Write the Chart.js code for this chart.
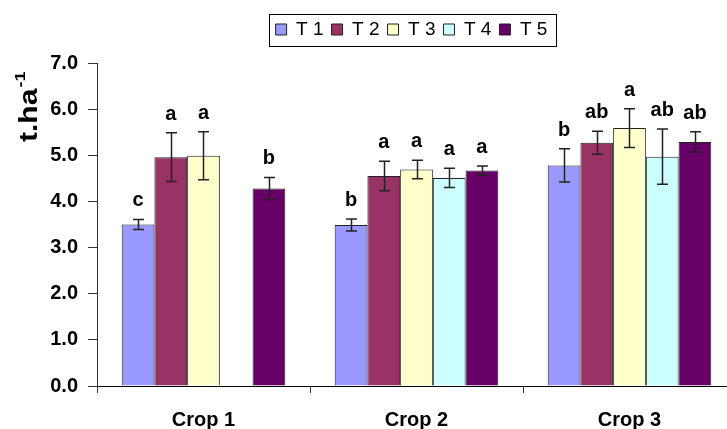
<!DOCTYPE html>
<html>
<head>
<meta charset="utf-8">
<script src="https://cdn.jsdelivr.net/npm/chart.js@4/dist/chart.umd.min.js"></script>
<style>
  html, body { margin: 0; padding: 0; background: #fff; overflow: hidden; }
  #wrap { width: 740px; height: 429px; }
</style>
</head>
<body>
<div id="wrap"><canvas id="chart" width="740" height="429"></canvas></div>
<script>
// data
const categories = ['Crop 1', 'Crop 2', 'Crop 3'];
const seriesNames = ['T 1', 'T 2', 'T 3', 'T 4', 'T 5'];
const t1 = [3.50, 3.49, 4.78];
const t2 = [4.96, 4.55, 5.27];
const t3 = [4.99, 4.69, 5.59];
const t4 = [null, 4.51, 4.97];
const t5 = [4.28, 4.67, 5.29];
const t1Err = [0.11, 0.13, 0.36];
const t2Err = [0.53, 0.32, 0.25];
const t3Err = [0.52, 0.20, 0.42];
const t4Err = [null, 0.21, 0.60];
const t5Err = [0.24, 0.10, 0.22];
const t1Letters = ['c', 'b', 'b'];
const t2Letters = ['a', 'a', 'ab'];
const t3Letters = ['a', 'a', 'a'];
const t4Letters = [null, 'a', 'ab'];
const t5Letters = ['b', 'a', 'ab'];
const yTicks = [0, 1, 2, 3, 4, 5, 6, 7];

const colors = ['#9999FF', '#993366', '#FFFFCC', '#CCFFFF', '#660066'];
const FONT = "'Liberation Sans', Arial, sans-serif";

const values = [t1, t2, t3, t4, t5];
const errs = [t1Err, t2Err, t3Err, t4Err, t5Err];
const letters = [t1Letters, t2Letters, t3Letters, t4Letters, t5Letters];

// error bars + significance letters
const errorBars = {
  id: 'errorBars',
  afterDatasetsDraw(chart) {
    const { ctx } = chart;
    const y = chart.scales.y;
    ctx.save();
    chart.data.datasets.forEach((ds, i) => {
      const meta = chart.getDatasetMeta(i);
      meta.data.forEach((bar, j) => {
        const v = ds.data[j];
        if (v == null) return;
        const e = ds.errors[j];
        const top = y.getPixelForValue(v + e);
        const bot = y.getPixelForValue(v - e);
        const x = Math.round(bar.x) + 0.5;
        ctx.strokeStyle = '#222';
        ctx.lineWidth = 1.5;
        ctx.beginPath();
        ctx.moveTo(x, top); ctx.lineTo(x, bot);
        ctx.moveTo(x - 5.5, top); ctx.lineTo(x + 5.5, top);
        ctx.moveTo(x - 5.5, bot); ctx.lineTo(x + 5.5, bot);
        ctx.stroke();
        const lab = ds.letters[j];
        if (lab) {
          ctx.fillStyle = '#000';
          ctx.font = 'bold 20px ' + FONT;
          ctx.textAlign = 'center';
          ctx.textBaseline = 'alphabetic';
          ctx.fillText(lab, bar.x, top - 13);
        }
      });
    });
    ctx.restore();
  }
};

// y title with superscript, frame round the legend, extra room under the legend
const extras = {
  id: 'extras',
  beforeUpdate(chart) {
    const lg = chart.legend;
    if (lg && !lg._tall) {
      const fit = lg.fit;
      lg.fit = function () { fit.call(this); this.height = 51; };
      lg._tall = true;
    }
  },
  afterLayout(chart) {
    // legend sits a little left of the plot centre
    chart.legend.left -= 5;
    chart.legend.right -= 5;
  },
  afterDraw(chart) {
    const { ctx } = chart;
    ctx.save();
    ctx.fillStyle = '#000';
    ctx.translate(37, 142);
    ctx.rotate(-Math.PI / 2);
    ctx.scale(1.2, 1);
    ctx.textAlign = 'left';
    ctx.textBaseline = 'alphabetic';
    ctx.font = 'bold 25px ' + FONT;
    ctx.fillText('t.ha', 0, 0);
    const w = ctx.measureText('t.ha').width;
    ctx.font = 'bold 15px ' + FONT;
    ctx.fillText('-1', w + 1, -12);
    ctx.restore();

    const boxes = chart.legend.legendHitBoxes;
    if (boxes && boxes.length) {
      const first = boxes[0], last = boxes[boxes.length - 1];
      const cy = first.top + first.height / 2;
      ctx.save();
      ctx.strokeStyle = '#000';
      ctx.lineWidth = 1;
      ctx.strokeRect(Math.round(first.left - 7) + 0.5, Math.round(cy - 16) + 0.5,
        Math.round(last.left + last.width - first.left + 15), 32);
      ctx.restore();
    }
  }
};

new Chart(document.getElementById('chart'), {
  type: 'bar',
  data: {
    labels: categories,
    datasets: seriesNames.map((name, i) => ({
      label: name,
      data: values[i],
      errors: errs[i],
      letters: letters[i],
      backgroundColor: colors[i],
      borderColor: '#222',
      borderWidth: 1,
      categoryPercentage: 0.768,
      barPercentage: 1,
    })),
  },
  options: {
    responsive: false,
    animation: false,
    layout: { padding: { top: 12, right: 4, bottom: 0, left: 0 } },
    plugins: {
      tooltip: { enabled: false },
      legend: {
        position: 'top',
        fullSize: false,
        labels: {
          boxWidth: 11,
          boxHeight: 11,
          padding: 8,
          color: '#000',
          font: { family: FONT, size: 19 },
        },
      },
    },
    scales: {
      x: {
        afterFit(s) { s.height = 43; },
        grid: { display: true, drawOnChartArea: false, drawTicks: true, tickLength: 7, color: '#333', offset: true },
        border: { color: '#000', width: 1 },
        ticks: { color: '#000', padding: 15, font: { family: FONT, size: 20, weight: 'bold' } },
      },
      y: {
        min: 0,
        max: 7,
        afterFit(s) { s.width = 97; },
        afterBuildTicks(s) { s.ticks = yTicks.map(v => ({ value: v })); },
        grid: { display: true, drawOnChartArea: false, drawTicks: true, tickLength: 9, color: '#333' },
        border: { color: '#333', width: 1 },
        ticks: {
          color: '#000',
          padding: 10,
          font: { family: FONT, size: 20, weight: 'bold' },
          callback: v => v.toFixed(1),
        },
      },
    },
  },
  plugins: [errorBars, extras],
});
</script>
</body>
</html>
